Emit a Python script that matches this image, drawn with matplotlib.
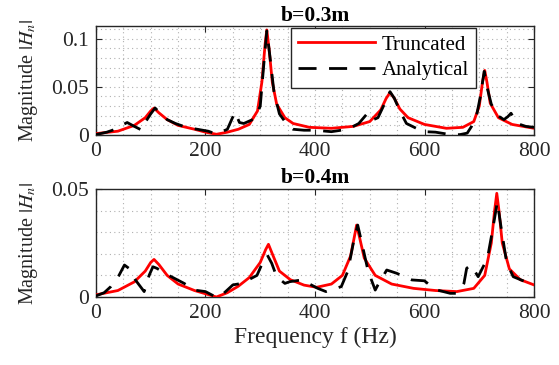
import numpy as np
import matplotlib
matplotlib.use("Agg")
import matplotlib.pyplot as plt
from matplotlib.ticker import MultipleLocator, FixedLocator

plt.rcParams["font.family"] = ["Liberation Serif", "DejaVu Serif"]
plt.rcParams["mathtext.fontset"] = "stix"

# ---------------- data ----------------
# b = 0.3 m
f_tr_03 = [0, 40, 70, 90, 100, 106, 115, 130, 150, 180, 200, 220, 240, 260, 280,
           295, 303, 309, 312, 316, 322, 330, 345, 360, 390, 430, 470, 500, 520,
           530, 537, 545, 555, 570, 600, 640, 670, 690, 700, 706, 710, 714, 720,
           735, 760, 800]
h_tr_03 = [0.0015, 0.004, 0.010, 0.018, 0.025, 0.028, 0.023, 0.016, 0.010, 0.006,
           0.003, 0.0008, 0.003, 0.006, 0.011, 0.025, 0.055, 0.095, 0.109, 0.090,
           0.055, 0.032, 0.018, 0.012, 0.008, 0.007, 0.009, 0.014, 0.026, 0.038,
           0.044, 0.038, 0.027, 0.018, 0.011, 0.007, 0.008, 0.014, 0.030, 0.055,
           0.067, 0.055, 0.033, 0.018, 0.011, 0.007]

f_an_03 = [0, 20, 35, 50, 57, 70, 84, 92, 100, 108, 115, 130, 145, 165, 185, 205,
           220, 240, 254, 262, 270, 290, 300, 306, 312, 318, 325, 335, 350, 360,
           380, 400, 430, 460, 480, 495, 503, 515, 525, 537, 545, 555, 567, 585,
           600, 620, 650, 665, 678, 686, 695, 702, 709, 714, 722, 734, 745, 752,
           758, 769, 785, 800]
h_an_03 = [0.0005, 0.003, 0.006, 0.011, 0.013, 0.009, 0.005, 0.015, 0.022, 0.028,
           0.024, 0.016, 0.012, 0.008, 0.006, 0.004, 0.001, 0.006, 0.024, 0.013,
           0.012, 0.017, 0.030, 0.070, 0.108, 0.080, 0.045, 0.022, 0.010, 0.006,
           0.005, 0.005, 0.0035, 0.006, 0.012, 0.022, 0.015, 0.018, 0.030, 0.045,
           0.038, 0.025, 0.012, 0.007, 0.0035, 0.003, 0.0002, 0.0005, 0.002, 0.009,
           0.020, 0.040, 0.066, 0.050, 0.032, 0.020, 0.016, 0.019, 0.0226, 0.012,
           0.009, 0.008]

# b = 0.4 m
f_tr_04 = [0, 40, 70, 90, 100, 106, 115, 130, 150, 180, 200, 220, 240, 260, 280,
           300, 310, 315, 322, 335, 355, 380, 403, 430, 450, 465, 472, 476, 481,
           490, 510, 540, 580, 620, 659, 690, 710, 722, 728, 732, 736, 742, 755,
           775, 800]
h_tr_04 = [0.001, 0.003, 0.007, 0.012, 0.016, 0.0174, 0.015, 0.010, 0.006, 0.003,
           0.0015, 0.0, 0.002, 0.005, 0.009, 0.016, 0.022, 0.0244, 0.020, 0.012,
           0.008, 0.0055, 0.0045, 0.006, 0.010, 0.019, 0.028, 0.0333, 0.028, 0.018,
           0.010, 0.006, 0.004, 0.003, 0.0025, 0.004, 0.010, 0.025, 0.040, 0.048,
           0.040, 0.025, 0.013, 0.008, 0.0056]

f_an_04 = [0, 15, 27, 42, 52, 60, 72, 88, 97, 104, 111, 133, 161, 180, 200, 215,
           226, 250, 266, 294, 305, 313, 321, 330, 345, 354, 376, 405, 420, 428,
           448, 460, 470, 478, 485, 497, 510, 515, 531, 549, 577, 600, 619, 647,
           659, 665, 672, 677, 685, 698, 715, 725, 733, 740, 750, 762, 785, 800]
h_an_04 = [0.0005, 0.002, 0.0048, 0.010, 0.0148, 0.0133, 0.0079, 0.0025, 0.010,
           0.014, 0.0133, 0.010, 0.0063, 0.0032, 0.0025, 0.0005, 0.0, 0.0056,
           0.0063, 0.010, 0.0163, 0.0194, 0.0156, 0.0094, 0.0063, 0.0071, 0.0079,
           0.004, 0.0025, 0.0032, 0.0048, 0.012, 0.025, 0.0333, 0.0256, 0.012,
           0.0032, 0.0056, 0.0125, 0.011, 0.0079, 0.0075, 0.0035, 0.0017, 0.0017,
           0.003, 0.0063, 0.0133, 0.0148, 0.0094, 0.018, 0.032, 0.044, 0.032,
           0.016, 0.0094, 0.007, 0.0056]

panels = [
    ("b=0.3m", f_tr_03, h_tr_03, f_an_03, h_an_03, 0.113, [0, 0.05, 0.1], ["0", "0.05", "0.1"]),
    ("b=0.4m", f_tr_04, h_tr_04, f_an_04, h_an_04, 0.05, [0, 0.05], ["0", "0.05"]),
]

# ---------------- figure ----------------
fig = plt.figure(figsize=(5.59, 3.65), dpi=100)
rects = [[0.1717, 0.630, 0.7836, 0.2986],
         [0.1717, 0.1863, 0.7836, 0.2959]]

for k, (title, ft, ht, fa, ha, ytop, yt, ytl) in enumerate(panels):
    ax = fig.add_axes(rects[k])

    ax.plot(ft, ht, color="red", linewidth=2.0, label="Truncated", zorder=3)
    ax.plot(fa, ha, color="black", linewidth=2.0, linestyle=(0, (6.5, 4.5)),
            label="Analytical", zorder=4)

    ax.set_xlim(0, 800)
    ax.set_ylim(0, ytop)
    ax.xaxis.set_major_locator(MultipleLocator(200))
    ax.xaxis.set_minor_locator(MultipleLocator(50))
    ax.yaxis.set_major_locator(FixedLocator(yt))
    ax.yaxis.set_minor_locator(MultipleLocator(0.01))
    ax.set_yticklabels(ytl)

    ax.grid(which="both", linestyle=(0, (1, 3)), color="#b0b0b0", linewidth=0.8)
    ax.tick_params(which="major", direction="in", top=True, right=True,
                   length=4, labelsize=15.5, colors="#262626")
    ax.tick_params(axis="x", which="major", pad=5)
    ax.tick_params(axis="y", which="major", pad=5)
    ax.tick_params(which="minor", length=0, top=True, right=True)
    for sp in ax.spines.values():
        sp.set_color("#262626")
        sp.set_linewidth(1.0)

    ax.set_title(title, fontsize=15.5, fontweight="bold", pad=4)
    ax.set_ylabel(r"Magnitude $|H_n|$", fontsize=14.5, color="#262626")
    ax.yaxis.set_label_coords(-0.128, 0.5)

    if k == 0:
        leg = ax.legend(loc="upper right", bbox_to_anchor=(0.868, 0.985),
                        fontsize=15, handlelength=3.7, fancybox=False,
                        framealpha=1, edgecolor="#262626", borderaxespad=0,
                        borderpad=0.35, labelspacing=0.3, handletextpad=0.3)
        leg.get_frame().set_linewidth(1.0)
    else:
        ax.set_xlabel("Frequency f (Hz)", fontsize=17, color="#262626", labelpad=3)

fig.savefig("out.png", dpi=100)
